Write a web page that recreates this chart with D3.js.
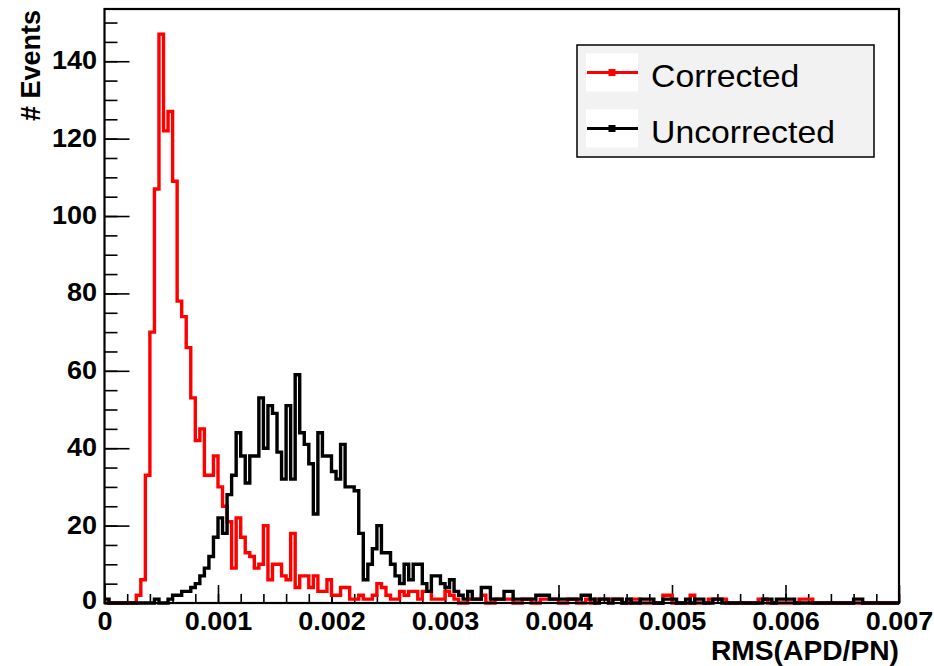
<!DOCTYPE html>
<html>
<head>
<meta charset="utf-8">
<script src="https://cdn.jsdelivr.net/npm/d3@7"></script>
<style>
body{margin:0;background:#fff}
svg{display:block}
text{font-family:"Liberation Sans",Arial,Helvetica,sans-serif}
</style>
</head>
<body>
<svg width="934" height="666"></svg>
<script>
// bin width of both histograms (RMS units), 175 bins from 0 to 0.007
var binWidth = 0.00004;

var corrected = [
    0,0,0,0,0,0,0,2,6,33,
    70,107,147,122,127,109,78,74,66,53,
    42,45,33,33,38,30,25,21,9,22,
    17,13,12,9,10,20,6,10,10,7,
    6,18,4,7,7,4,7,3,3,6,
    2,2,4,4,1,1,2,1,1,2,
    5,4,2,1,1,3,2,3,3,1,
    3,3,1,1,1,3,2,1,0,0,
    1,1,1,2,0,0,1,1,1,1,
    0,0,1,1,0,0,1,1,1,1,
    0,0,1,1,0,0,1,0,1,1,
    1,1,1,1,0,0,1,1,0,0,
    0,0,0,2,2,0,0,0,0,2,
    0,0,0,1,1,1,1,0,0,0,
    0,0,0,0,1,1,0,0,0,0,
    0,0,0,1,1,1,0,0,0,0,
    0,0,0,0,0,0,0,0,0,0,
    0,0,0,0,0
];

var uncorrected = [
    1,0,0,0,0,0,0,0,0,0,
    0,1,0,0,1,2,2,3,3,4,
    5,7,9,12,17,22,18,28,33,44,
    38,31,38,38,53,40,51,49,39,32,
    51,32,59,44,41,36,23,44,38,38,
    34,32,41,30,30,29,18,6,10,14,
    20,13,13,10,7,5,10,6,10,10,
    5,3,7,7,5,4,6,3,2,1,
    3,1,1,4,4,1,1,1,3,3,
    1,1,1,1,1,2,2,2,1,1,
    1,1,1,1,1,2,2,1,0,1,
    1,0,1,1,0,1,0,0,1,1,
    1,0,0,1,1,1,0,0,1,0,
    1,1,0,0,1,1,0,0,0,0,
    0,0,0,0,0,1,1,0,1,1,
    1,1,0,0,0,0,0,0,0,0,
    0,0,0,0,0,1,1,0,0,0,
    0,0,0,0,0
];

var xTicks = [0, 0.001, 0.002, 0.003, 0.004, 0.005, 0.006, 0.007];
var xTickLabels = ["0", "0.001", "0.002", "0.003", "0.004", "0.005", "0.006", "0.007"];
var yTicks = [0, 20, 40, 60, 80, 100, 120, 140];
var seriesNames = ["Corrected", "Uncorrected"];
var seriesColors = ["#ff0000", "#000000"];

;(function(){

    var svg = d3.select("svg"),
        mLeft = 104.5, mRight = 899, mTop = 9, mBottom = 603;

    var x = d3.scaleLinear().domain([0, 0.007]).range([mLeft, mRight]);
    var y = d3.scaleLinear().domain([0, 153.5]).range([mBottom, mTop]);

    // minor ticks
    svg.append("g")
        .attr("transform", "translate(0," + mBottom + ")")
        .call(d3.axisBottom(x).ticks(35).tickSize(-9).tickSizeOuter(0).tickFormat(""))
        .call(function(g){ g.select(".domain").remove(); });

    svg.append("g")
        .attr("transform", "translate(" + mLeft + ",0)")
        .call(d3.axisLeft(y).tickValues(d3.range(0, 151, 5)).tickSize(-13).tickSizeOuter(0).tickFormat(""))
        .call(function(g){ g.select(".domain").remove(); });

    // major ticks + labels
    var xAxis = svg.append("g")
        .attr("class", "axis axis--x")
        .attr("transform", "translate(0," + mBottom + ")")
        .call(d3.axisBottom(x)
            .tickValues(xTicks)
            .tickSize(-18)
            .tickSizeOuter(0)
            .tickPadding(9)
            .tickFormat(function(d, i){ return xTickLabels[i]; }));
    xAxis.select(".domain").remove();

    var yAxis = svg.append("g")
        .attr("class", "axis axis-y-left")
        .attr("transform", "translate(" + mLeft + ",0)")
        .call(d3.axisLeft(y)
            .tickValues(yTicks)
            .tickSize(-25)
            .tickSizeOuter(0)
            .tickPadding(7));
    yAxis.select(".domain").remove();

    svg.selectAll(".tick line").attr("stroke", "#000").attr("stroke-width", 1.6);
    svg.selectAll(".axis text")
        .attr("font-family", "Liberation Sans, Arial, sans-serif")
        .attr("font-size", 25)
        .attr("font-weight", "bold")
        .attr("fill", "#000")
        .attr("transform", "scale(1.08,1)");
    yAxis.selectAll(".tick text").attr("dy", "0.3em");
    yAxis.select(".tick text").attr("dy", "0.2em");

    // histograms
    var line = d3.line()
        .x(function(d){ return x(d[0]); })
        .y(function(d){ return y(d[1]); })
        .curve(d3.curveStepAfter);

    [corrected, uncorrected].forEach(function(values, i){
        var pts = values.map(function(v, k){ return [k * binWidth, v]; });
        pts.push([values.length * binWidth, values[values.length - 1]]);
        svg.append("path")
            .datum(pts)
            .attr("fill", "none")
            .attr("stroke", seriesColors[i])
            .attr("stroke-width", 3.4)
            .attr("stroke-linejoin", "miter")
            .attr("d", line);
    });

    // frame
    svg.append("rect")
        .attr("x", mLeft).attr("y", mTop)
        .attr("width", mRight - mLeft).attr("height", mBottom - mTop)
        .attr("fill", "none")
        .attr("stroke", "#000")
        .attr("stroke-width", 2.2);

    // axis titles
    svg.append("text")
        .attr("transform", "translate(" + mRight + ",660) scale(1.045,1)")
        .attr("text-anchor", "end")
        .attr("font-size", 27)
        .attr("font-weight", "bold")
        .text("RMS(APD/PN)");

    svg.append("text")
        .attr("transform", "translate(40," + (mTop + 1) + ") rotate(-90)")
        .attr("text-anchor", "end")
        .attr("font-size", 27)
        .attr("font-weight", "bold")
        .text("# Events");

    // legend
    var legend = svg.append("g").attr("class", "legend");
    legend.append("rect")
        .attr("x", 577).attr("y", 45)
        .attr("width", 297).attr("height", 112)
        .attr("fill", "#f2f2f2")
        .attr("stroke", "#000")
        .attr("stroke-width", 1.5);

    seriesNames.forEach(function(name, i){
        var ly = 72.5 + i * 56;
        var item = legend.append("g");
        item.append("rect")
            .attr("x", 586).attr("y", ly - 19)
            .attr("width", 52).attr("height", 38)
            .attr("fill", "#fff");
        item.append("line")
            .attr("x1", 587).attr("x2", 638)
            .attr("y1", ly).attr("y2", ly)
            .attr("stroke", seriesColors[i])
            .attr("stroke-width", 3);
        item.append("rect")
            .attr("x", 608.5).attr("y", ly - 3.5)
            .attr("width", 7).attr("height", 7)
            .attr("fill", seriesColors[i]);
        item.append("text")
            .attr("transform", "translate(651," + (ly + 14) + ") scale(1.09,1)")
            .attr("font-size", 31)
            .attr("fill", "#000")
            .text(name);
    });

}());
</script>
</body>
</html>
